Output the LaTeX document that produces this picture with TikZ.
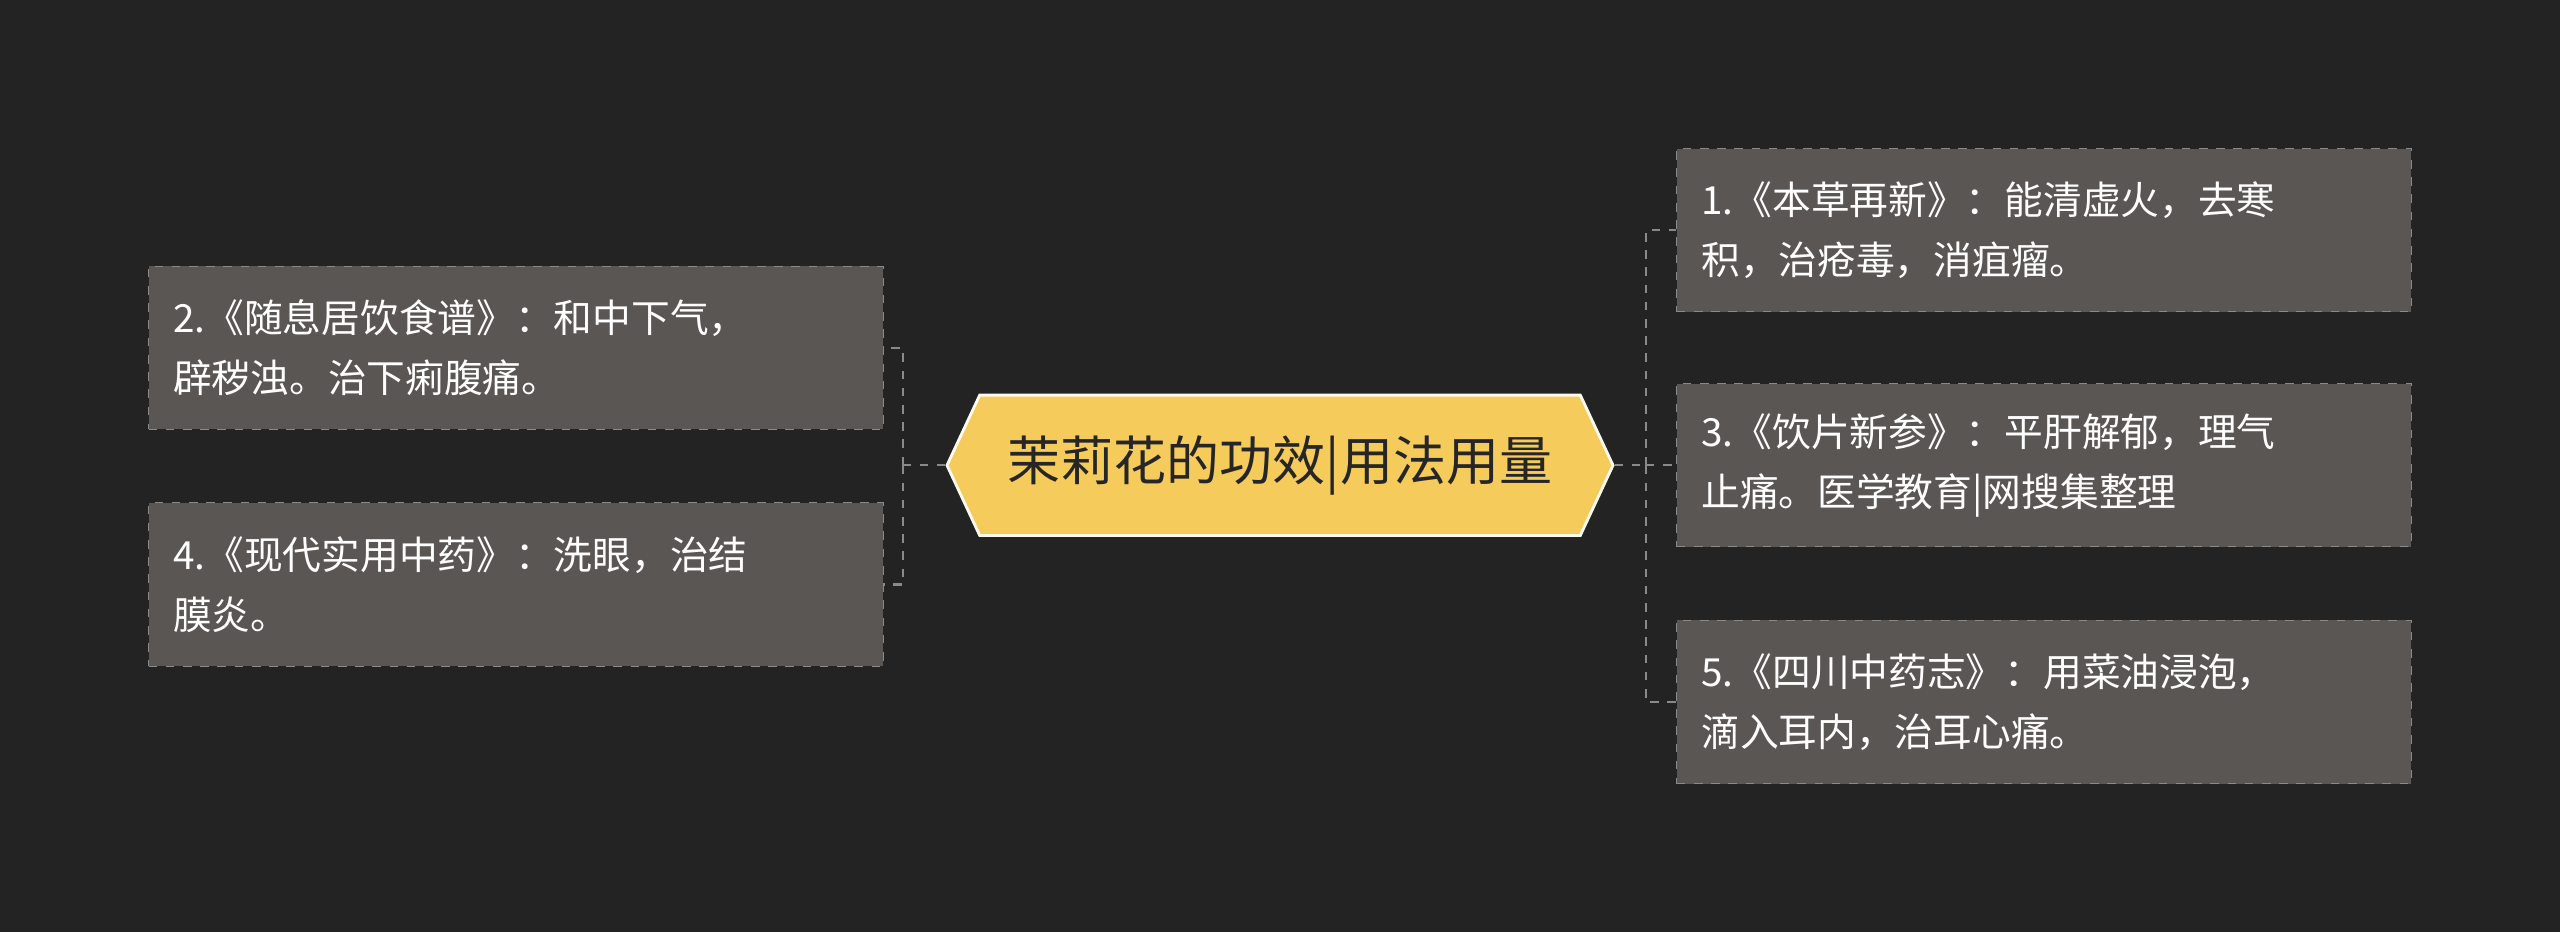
\documentclass[tikz,border=0pt]{standalone}
\usepackage{fontspec}
\setmainfont{Noto Sans CJK SC}
\usetikzlibrary{shapes.symbols}
\definecolor{bgc}{HTML}{232323}
\definecolor{boxc}{HTML}{5A5654}
\definecolor{linec}{HTML}{8A8A8A}
\definecolor{mainc}{HTML}{F5CB5C}
\tikzset{
    leaf/.style={draw=linec, dashed, fill=boxc, text=white, align=left,
        minimum width=9cm, minimum height=2cm, text width=8.4cm,
        font=\fontsize{13.5}{21}\selectfont, inner sep=0.3cm},
    link/.style={draw=linec, dashed, line width=0.8pt}
}
\begin{document}
\begin{tikzpicture}[x=0.02cm, y=0.02cm]
    \fill[bgc] (0,0) rectangle (1568,571);
    \useasboundingbox (0,0) rectangle (1568,571);
    % centre topic
    \node[signal, signal to=west and east, signal pointer angle=130, draw=white!90!mainc,
        line width=1pt, fill=mainc, minimum width=8.16cm, minimum height=1.72cm,
        font=\fontsize{18.5}{22}\selectfont, text=black!85] (main) at (784,286) {茉莉花的功效|用法用量};
    % right side
    \node[leaf] (r1) at (1252,430) {1.《本草再新》：能清虚火，去寒\\积，治疮毒，消疽瘤。};
    \node[leaf] (r3) at (1252,286) {3.《饮片新参》：平肝解郁，理气\\止痛。医学教育|网搜集整理};
    \node[leaf] (r5) at (1252,141) {5.《四川中药志》：用菜油浸泡，\\滴入耳内，治耳心痛。};
    % left side
    \node[leaf] (l2) at (316,358) {2.《随息居饮食谱》：和中下气，\\辟秽浊。治下痢腹痛。};
    \node[leaf] (l4) at (316,213) {4.《现代实用中药》：洗眼，治结\\膜炎。};
    % connectors
    \coordinate (rj) at (1008,286);
    \coordinate (lj) at (553,286);
    \draw[link] (main.east) -- (rj);
    \foreach \n in {r1,r3,r5} \draw[link] (rj) |- (\n.west);
    \draw[link] (main.west) -- (lj);
    \foreach \n in {l2,l4} \draw[link] (lj) |- (\n.east);
\end{tikzpicture}
\end{document}
